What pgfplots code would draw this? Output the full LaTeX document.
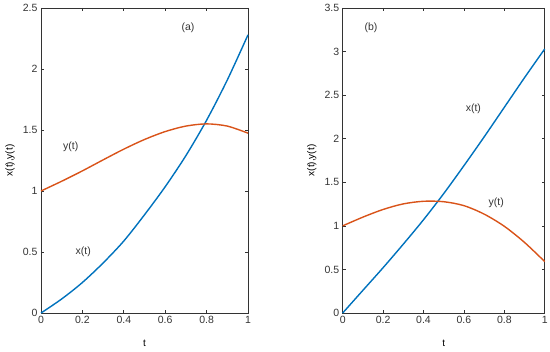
\documentclass[border=0pt]{standalone}
\usepackage{pgfplots}
\pgfplotsset{compat=1.18}
\usepackage{fontspec}
\setmainfont{Liberation Sans}
\definecolor{mblue}{HTML}{0072BD}
\definecolor{morange}{HTML}{D95319}
\definecolor{axgray}{HTML}{333333}
\pgfplotsset{
  myax/.style={
    scale only axis,
    anchor=south west,
    xmin=0, xmax=1,
    xtick={0,0.2,0.4,0.6,0.8,1},
    axis line style={axgray, line width=0.6pt},
    tick style={axgray, line width=0.6pt},
    tick align=inside,
    major tick length=3pt,
    /pgf/number format/assume math mode=true,
    tick label style={font=\fontsize{10.5}{12}\selectfont, text=axgray},
    label style={font=\fontsize{10.5}{12}\selectfont, text=axgray},
    xlabel={t},
    ylabel={x(t),y(t)},
    every axis x label/.style={at={(axis description cs:0.5,0)}, yshift=-30pt, anchor=center},
    every axis y label/.style={at={(axis description cs:0,0.5)}, xshift=-31pt, rotate=90, anchor=center},
    clip=false,
  },
  bl/.style={mblue, line width=1.4pt, smooth, no markers},
  orl/.style={morange, line width=1.4pt, smooth, no markers},
}
\begin{document}
\begin{tikzpicture}
\path[use as bounding box] (0pt,0pt) rectangle (550pt,352pt);
\begin{axis}[myax, at={(41pt,39pt)}, width=207pt, height=305pt,
  ymin=0, ymax=2.5, ytick={0,0.5,1,1.5,2,2.5}]
\addplot[bl] coordinates {(0,0)(0.1,0.115)(0.2,0.25)(0.3,0.41)(0.4,0.59)(0.5,0.805)(0.6,1.035)(0.7,1.29)(0.8,1.58)(0.9,1.91)(1,2.28)};
\addplot[orl] coordinates {(0,1.0)(0.1,1.08)(0.2,1.165)(0.3,1.255)(0.4,1.343)(0.5,1.422)(0.6,1.487)(0.7,1.532)(0.8,1.55)(0.9,1.532)(1,1.474)};
\node[font=\fontsize{10.5}{12}\selectfont, text=axgray] at (axis cs:0.71,2.34) {(a)};
\node[font=\fontsize{10.5}{12}\selectfont, text=axgray] at (axis cs:0.144,1.36) {y(t)};
\node[font=\fontsize{10.5}{12}\selectfont, text=axgray] at (axis cs:0.204,0.50) {x(t)};
\end{axis}
\begin{axis}[myax, at={(342.7pt,39pt)}, width=202pt, height=305pt,
  ymin=0, ymax=3.5, ytick={0,0.5,1,1.5,2,2.5,3,3.5}]
\addplot[bl] coordinates {(0,0)(0.1,0.26)(0.2,0.52)(0.3,0.79)(0.4,1.07)(0.5,1.37)(0.6,1.69)(0.7,2.02)(0.8,2.36)(0.9,2.70)(1,3.03)};
\addplot[orl] coordinates {(0,1.0)(0.1,1.1)(0.2,1.188)(0.3,1.252)(0.4,1.282)(0.5,1.277)(0.6,1.232)(0.7,1.135)(0.8,0.995)(0.9,0.81)(1,0.59)};
\node[font=\fontsize{10.5}{12}\selectfont, text=axgray] at (axis cs:0.14,3.27) {(b)};
\node[font=\fontsize{10.5}{12}\selectfont, text=axgray] at (axis cs:0.647,2.34) {x(t)};
\node[font=\fontsize{10.5}{12}\selectfont, text=axgray] at (axis cs:0.76,1.27) {y(t)};
\end{axis}
\end{tikzpicture}
\end{document}
